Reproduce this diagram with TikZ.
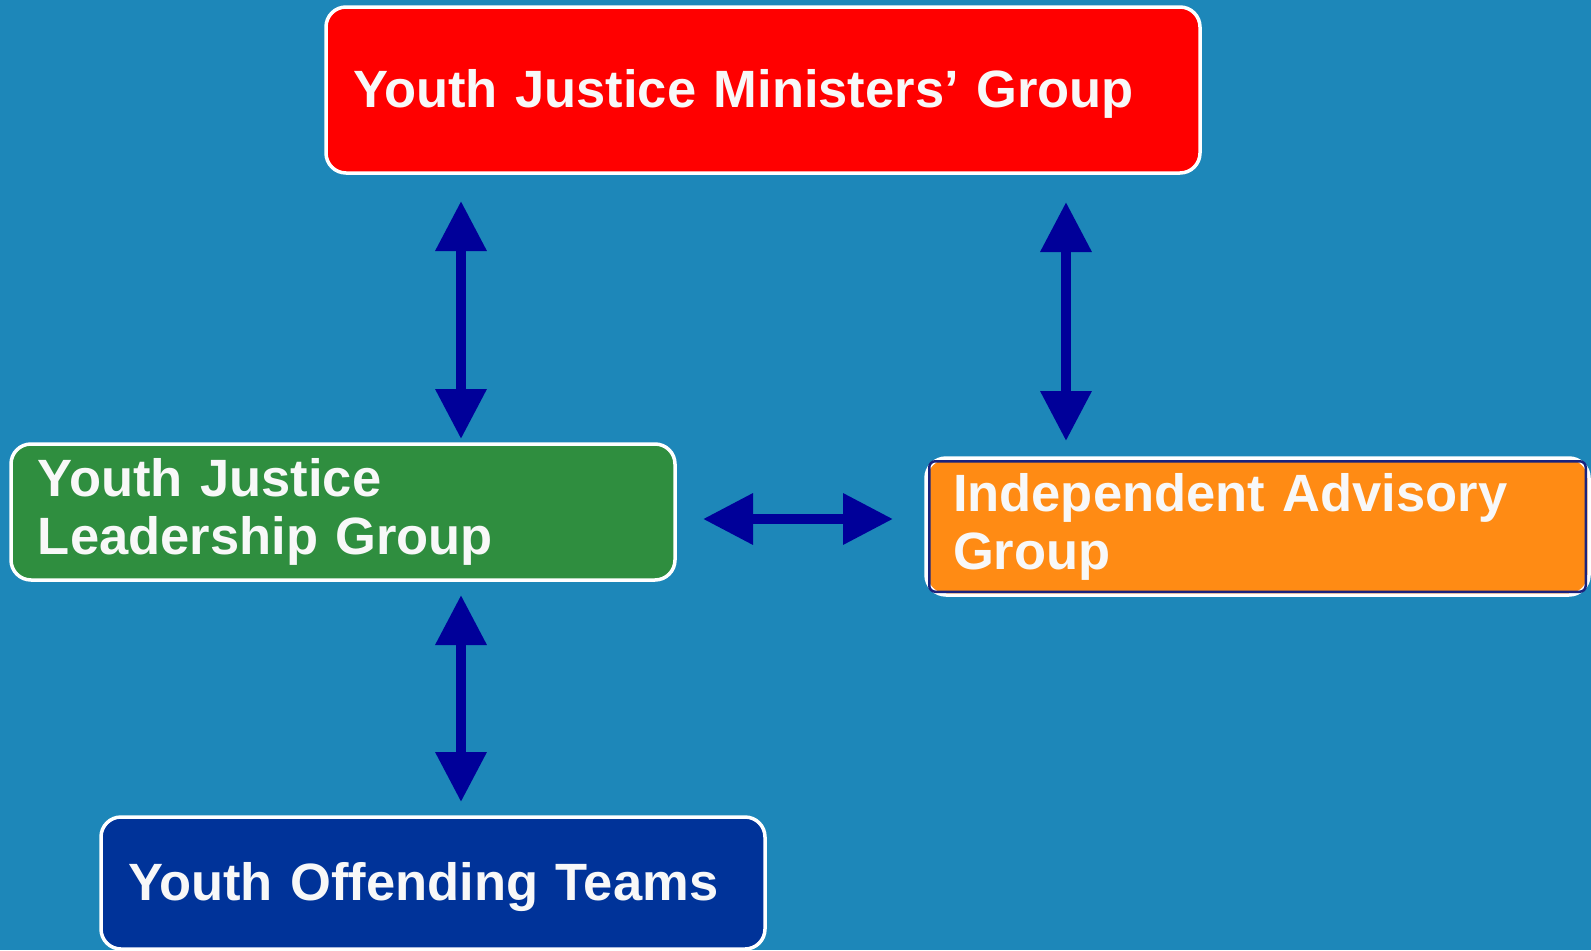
\documentclass[tikz,border=0pt]{standalone}
\usepackage{fontspec}
\setmainfont{Liberation Sans}
\usetikzlibrary{arrows.meta}
\definecolor{bgblue}{RGB}{29,135,185}
\definecolor{redgrp}{RGB}{255,0,0}
\definecolor{greengrp}{RGB}{47,142,63}
\definecolor{orangegrp}{RGB}{255,139,20}
\definecolor{bluegrp}{RGB}{0,51,153}
\definecolor{navyline}{RGB}{26,35,126}
\definecolor{arrowblue}{RGB}{0,0,153}
\definecolor{textwhite}{RGB}{248,248,248}
\begin{document}
\begin{tikzpicture}[x=0.5pt,y=-0.5pt,
	group/.style = {shape=rectangle, rounded corners=10pt, draw=white, line width=1.75pt,
		text=textwhite, font=\fontsize{26.25pt}{29pt}\selectfont\bfseries,
		align=left, inner xsep=13.5pt, inner ysep=0pt},
	oneline/.style = {text depth=2pt},
	link/.style = {draw=arrowblue, line width=5pt,
		{Triangle[length=25pt,width=24.5pt]}-{Triangle[length=25pt,width=24.5pt]}}]
	\fill[bgblue] (0,0) rectangle (1591,950);
	% groups
	\node[group, oneline, fill=redgrp, minimum width=437pt, minimum height=83pt, text width=410pt]
		(ymg) at (763,90) {Youth Justice Ministers’ Group};
	\node[group, fill=greengrp, minimum width=332pt, minimum height=68pt, text width=305pt]
		(ljg) at (343,512) {Youth Justice\\Leadership Group};
	\node[group, fill=orangegrp, minimum width=331.5pt, minimum height=68.5pt, text width=304.5pt]
		(iag) at (1257.5,526.5) {Independent Advisory\\Group};
	\node[group, oneline, fill=bluegrp, minimum width=332pt, minimum height=66pt, text width=305pt]
		(yot) at (433,883) {Youth Offending Teams};
	\draw[navyline, line width=1.25pt, rounded corners=3pt]
		([shift={(5,5)}]iag.north west) rectangle ([shift={(-5,-5)}]iag.south east);
	% arrow ends
	\coordinate (ymgl) at (461,201);
	\coordinate (ljgt) at (461,439);
	\coordinate (ymgr) at (1066,202);
	\coordinate (iagt) at (1066,441);
	\coordinate (ljgr) at (703,519);
	\coordinate (iagl) at (893,519);
	\coordinate (ljgb) at (461,595);
	\coordinate (yott) at (461,802);
	\draw[link] (ymgl) -- (ljgt);
	\draw[link] (ymgr) -- (iagt);
	\draw[link] (ljgr) -- (iagl);
	\draw[link] (ljgb) -- (yott);
\end{tikzpicture}
\end{document}
